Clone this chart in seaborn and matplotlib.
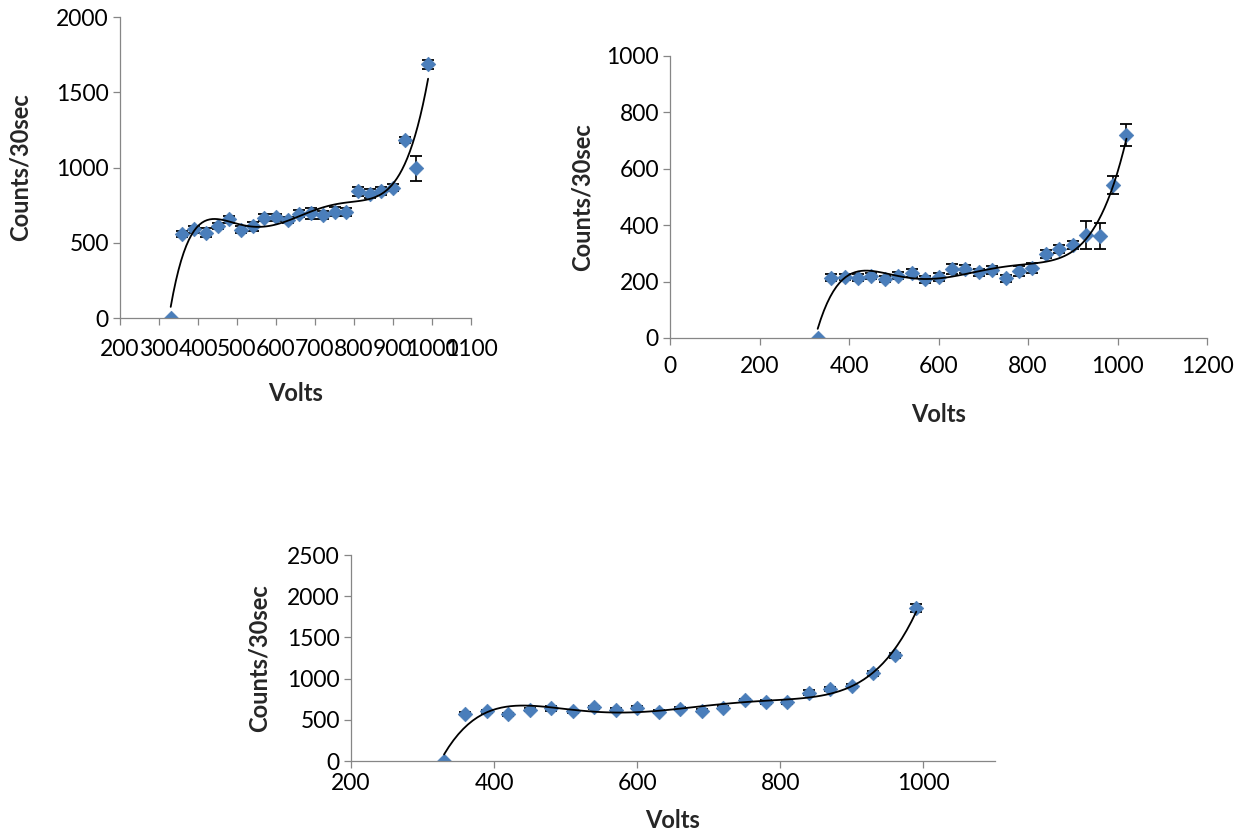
import numpy as np
import matplotlib
matplotlib.use('Agg')
import matplotlib.pyplot as plt
import seaborn as sns

import warnings
warnings.filterwarnings('ignore')

# --- data ------------------------------------------------------------------
volts_a = [330, 360, 390, 420, 450, 480, 510, 540, 570, 600, 630, 660,
           690, 720, 750, 780, 810, 840, 870, 900, 930, 960, 990]
counts_a = [0, 555, 590, 567, 612, 655, 587, 608, 667, 669, 650, 694,
            695, 686, 706, 705, 843, 826, 844, 866, 1181, 995, 1686]
err_a = [0, 20, 22, 28, 22, 22, 25, 32, 22, 25, 20, 25,
         35, 25, 30, 25, 30, 30, 25, 25, 20, 82, 30]

volts_b = [330, 360, 390, 420, 450, 480, 510, 540, 570, 600, 630, 660,
           690, 720, 750, 780, 810, 840, 870, 900, 930, 960, 990, 1020]
counts_b = [0, 214, 216, 214, 220, 209, 221, 230, 208, 216, 244, 244,
            233, 240, 212, 237, 247, 299, 316, 330, 365, 362, 543, 720]
err_b = [0, 12, 12, 12, 12, 12, 12, 14, 12, 14, 17, 14,
         12, 14, 12, 18, 18, 14, 15, 15, 50, 46, 32, 38]

volts_c = [330, 360, 390, 420, 450, 480, 510, 540, 570, 600, 630, 660,
           690, 720, 750, 780, 810, 840, 870, 900, 930, 960, 990]
counts_c = [0, 576, 604, 567, 625, 640, 604, 652, 625, 649, 600, 632,
            608, 649, 738, 717, 710, 831, 871, 911, 1062, 1281, 1859]
err_c = [0, 18, 18, 18, 18, 30, 18, 18, 18, 18, 18, 18,
         18, 20, 20, 20, 20, 25, 25, 25, 30, 35, 45]

xlabel = 'Volts'
ylabel = 'Counts/30sec'

# --- style -------------------------------------------------------------------
sns.set_style('ticks')
plt.rcParams['font.family'] = ['Lato', 'DejaVu Sans']

W, H = 1247, 834
fig = plt.figure(figsize=(W / 100, H / 100), dpi=100)


def px_axes(l, t, r, b):
    return fig.add_axes([l / W, 1 - b / H, (r - l) / W, (b - t) / H])


def panel(ax, x, y, e, xlim, xticks, ylim, yticks, xpad, ylab_px, xlab_px, box):
    x = np.array(x)
    y = np.array(y)
    e = np.array(e)
    # excel-like 6th order polynomial trend line
    sns.regplot(x=x, y=y, order=6, ci=None, scatter=False, truncate=True,
                line_kws=dict(color='black', lw=1.3, zorder=4), ax=ax)
    sns.scatterplot(x=x, y=y, marker='D', s=56, color='#4a7ebb',
                    edgecolor='#4778b3', linewidth=0.4, zorder=2, ax=ax)
    m = e > 0
    ax.errorbar(x[m], y[m], yerr=e[m], fmt='none', ecolor='black',
                elinewidth=1.2, capsize=4, capthick=1.3, zorder=1.5)

    ax.set_xlim(xlim)
    ax.set_ylim(ylim)
    ax.set_xticks(xticks)
    ax.set_yticks(yticks)
    sns.despine(ax=ax)
    for s in ['left', 'bottom']:
        ax.spines[s].set_color('#868686')
        ax.spines[s].set_linewidth(0.9)
    ax.tick_params(direction='out', length=5, width=0.9, color='#868686',
                   labelsize=16.5, labelcolor='black')
    ax.tick_params(axis='x', pad=xpad)
    ax.tick_params(axis='y', pad=3)

    ax.set_xlabel(xlabel, fontsize=17, fontweight='bold')
    ax.set_ylabel(ylabel, fontsize=17, fontweight='bold')
    l, t, r, b = box
    ax.yaxis.set_label_coords((ylab_px - l) / (r - l), 0.5)
    ax.xaxis.set_label_coords(0.5, (b - xlab_px) / (b - t))
    ax.yaxis.label.set(ha='center', va='center')
    ax.xaxis.label.set(ha='center', va='center')


box1 = (120, 17, 471, 318)
box2 = (670, 56, 1207, 338)
box3 = (351, 555, 995, 761)

ax1 = px_axes(*box1)
panel(ax1, volts_a, counts_a, err_a, (200, 1100), range(200, 1101, 100),
      (0, 2000), range(0, 2001, 500), 10, 20, 393, box1)

ax2 = px_axes(*box2)
panel(ax2, volts_b, counts_b, err_b, (0, 1200), range(0, 1201, 200),
      (0, 1000), range(0, 1001, 200), 8, 582, 415, box2)

ax3 = px_axes(*box3)
panel(ax3, volts_c, counts_c, err_c, (200, 1100), range(200, 1001, 200),
      (0, 2500), range(0, 2501, 500), 4, 259, 820, box3)

plt.savefig('out.png', dpi=100)
